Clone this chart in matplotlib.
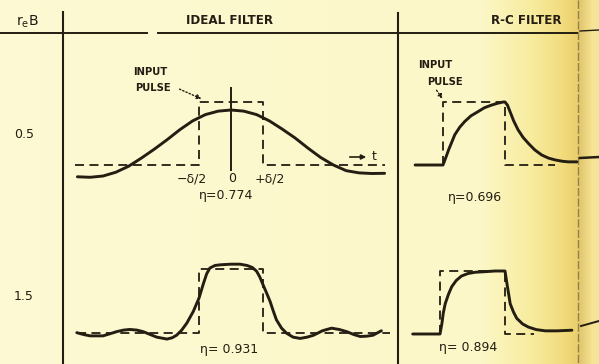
"""Pulse response of an ideal and an R-C low-pass filter for two values of r_e*B."""

import matplotlib
matplotlib.use("Agg")
import matplotlib.pyplot as plt
import numpy as np

# === Responses read as (t / pulse width, amplitude / pulse height) ===
IDEAL_LOW_T = [-2.4, -2.2, -2.0, -1.8, -1.6, -1.4, -1.2, -1.0, -0.8, -0.6, -0.4, -0.2,
               0.0, 0.2, 0.4, 0.6, 0.8, 1.0, 1.2, 1.4, 1.6, 1.8, 2.0, 2.2, 2.4]
IDEAL_LOW_A = [-0.187, -0.195, -0.175, -0.115, -0.02, 0.11, 0.25, 0.40, 0.56, 0.70, 0.80, 0.855,
               0.873, 0.855, 0.80, 0.70, 0.57, 0.43, 0.27, 0.12, 0.0, -0.09, -0.125, -0.135, -0.132]

IDEAL_HIGH_T = [-2.41, -2.3, -2.2, -2.0, -1.9, -1.79, -1.68, -1.58, -1.47, -1.37, -1.26, -1.16,
                -1.0, -0.92, -0.85, -0.77, -0.69, -0.59, -0.5, -0.43, -0.38, -0.33, -0.25, -0.17,
                0.0, 0.14, 0.25, 0.33, 0.4, 0.45, 0.5, 0.56, 0.61, 0.66, 0.71, 0.79, 0.87, 0.97,
                1.08, 1.19, 1.29, 1.43, 1.57, 1.69, 1.81, 1.92, 2.02, 2.12, 2.22, 2.35]
IDEAL_HIGH_A = [0.01, -0.02, -0.04, -0.04, -0.01, 0.025, 0.05, 0.06, 0.05, 0.025, -0.02, -0.06,
                -0.09, -0.07, -0.03, 0.05, 0.16, 0.34, 0.55, 0.78, 0.93, 1.02, 1.06, 1.07,
                1.08, 1.08, 1.06, 1.03, 0.97, 0.88, 0.76, 0.62, 0.5, 0.35, 0.21, 0.08, 0.0, -0.06,
                -0.08, -0.06, -0.03, 0.04, 0.08, 0.06, 0.025, -0.02, -0.05, -0.045, -0.03, 0.04]

RC_LOW_T = [-0.95, -0.5, -0.45, -0.41, -0.36, -0.31, -0.23, -0.15, -0.05, 0.07, 0.17, 0.28,
            0.38, 0.47, 0.5, 0.54, 0.58, 0.64, 0.71, 0.79, 0.88, 0.98, 1.09, 1.2, 1.31, 1.42,
            1.52, 1.66]
RC_LOW_A = [0.0, 0.0, 0.13, 0.24, 0.36, 0.48, 0.60, 0.69, 0.78, 0.85, 0.91, 0.95,
            0.98, 1.0, 1.0, 0.95, 0.85, 0.70, 0.56, 0.44, 0.34, 0.24, 0.16, 0.11, 0.08, 0.06,
            0.05, 0.05]

RC_HIGH_T = [-0.92, -0.5, -0.47, -0.45, -0.42, -0.37, -0.32, -0.25, -0.17, -0.07, 0.04, 0.2,
             0.35, 0.5, 0.515, 0.53, 0.555, 0.58, 0.63, 0.68, 0.77, 0.86, 0.98, 1.12, 1.3, 1.53]
RC_HIGH_A = [0.0, 0.0, 0.17, 0.33, 0.48, 0.63, 0.75, 0.85, 0.92, 0.96, 0.98, 0.99,
             1.0, 1.0, 0.9, 0.80, 0.64, 0.48, 0.35, 0.25, 0.16, 0.11, 0.07, 0.05, 0.05, 0.06]

# input pulse outlines (t, a)
IDEAL_LOW_PULSE_T = [-2.44, -0.5, -0.5, 0.5, 0.5, 2.4]
IDEAL_HIGH_PULSE_T = [-2.41, -0.5, -0.5, 0.5, 0.5, 2.48]
RC_LOW_PULSE_T = [-0.5, -0.5, 0.5, 0.5, 1.31]
RC_HIGH_PULSE_T = [-0.5, -0.5, 0.5, 0.5, 0.95]
IDEAL_PULSE_A = [0, 0, 1, 1, 0, 0]
RC_PULSE_A = [0, 1, 1, 0, 0]

ROW_LABELS = ["0.5", "1.5"]
ETA_IDEAL = ["η=0.774", "η= 0.931"]
ETA_RC = ["η=0.696", "η= 0.894"]

INK = "#231d12"
W, H = 599, 364

fig = plt.figure(figsize=(W / 100, H / 100), dpi=100)
plt.rcParams["font.family"] = ["DejaVu Sans"]

# page layer in pixel units
page = fig.add_axes([0, 0, 1, 1])
page.set_xlim(0, W)
page.set_ylim(H, 0)
page.axis("off")

# aged paper: pale cream, yellower towards the binding on the right
stops_x = [0, 480, 530, 560, 576, 580, 592, 599]
stops_c = np.array([
    [253, 250, 212], [252, 247, 200], [248, 236, 160], [242, 222, 128],
    [236, 208, 110], [226, 200, 110], [246, 228, 150], [244, 226, 150],
]) / 255
cols = np.arange(W)
row = np.stack([np.interp(cols, stops_x, stops_c[:, k]) for k in range(3)], axis=-1)
page.imshow(np.repeat(row[None, :, :], H, axis=0), extent=[0, W, H, 0],
            aspect="auto", zorder=0)

# table rules
page.plot([0, 147], [33, 33], color=INK, lw=1.4)
page.plot([158, 577], [33, 33], color=INK, lw=1.4)
page.plot([580, 599], [31, 30], color=INK, lw=1.0)
page.plot([63, 63], [12, H], color=INK, lw=1.5)
page.plot([398, 398], [13, H], color=INK, lw=1.5)
page.plot([578, 578], [0, H], color="#7d6c45", lw=1.0, ls=(0, (6, 1.5)), alpha=0.8)
page.plot([580, 599], [158, 157], color=INK, lw=1.8)
page.plot([581, 599], [326, 321], color=INK, lw=1.4)

txt = dict(color=INK, ha="center", va="center")
bold = dict(txt, fontweight="bold")

# headers
page.text(27, 22, r"$\mathregular{r_eB}$", fontsize=10, **txt)
page.text(229, 20, "IDEAL FILTER", fontsize=8.6, **bold)
page.text(526, 20, "R-C FILTER", fontsize=8.6, **bold)
for label, y in zip(ROW_LABELS, [135, 297]):
    page.text(24, y, label, fontsize=9, **txt)

# annotations
page.text(150, 72, "INPUT", fontsize=7.2, **bold)
page.text(153, 88, "PULSE", fontsize=7.2, **bold)
page.annotate("", xy=(204, 100), xytext=(177, 88),
              arrowprops=dict(arrowstyle="-|>", ls=(0, (1, 1.5)), lw=1.0,
                              color=INK, mutation_scale=7))
page.text(435, 65, "INPUT", fontsize=7.2, **bold)
page.text(445, 82, "PULSE", fontsize=7.2, **bold)
page.annotate("", xy=(444, 101), xytext=(435, 88),
              arrowprops=dict(arrowstyle="-|>", ls=(0, (1, 1.5)), lw=1.0,
                              color=INK, mutation_scale=6))
page.annotate("", xy=(369, 157), xytext=(347, 157),
              arrowprops=dict(arrowstyle="-|>", lw=1.2, color=INK, mutation_scale=7))
page.text(374, 156, "t", fontsize=9, **txt)
page.text(192, 179, "−δ/2", fontsize=9, **txt)
page.text(232, 179, "0", fontsize=9, **txt)
page.text(270, 179, "+δ/2", fontsize=9, **txt)

page.text(226, 195, ETA_IDEAL[0], fontsize=9, **txt)
page.text(229, 349, ETA_IDEAL[1], fontsize=9, **txt)
page.text(475, 198, ETA_RC[0], fontsize=9, **txt)
page.text(468, 348, ETA_RC[1], fontsize=9, **txt)


def panel_axes(cx, by, sx, sy, tlim=(-2.6, 2.6), alim=(-0.4, 1.3)):
    """Transparent axes whose t=0, a=0 sit at pixel (cx, by)."""
    left = (cx + tlim[0] * sx) / W
    bottom = 1 - (by - alim[0] * sy) / H
    ax = fig.add_axes([left, bottom, (tlim[1] - tlim[0]) * sx / W,
                       (alim[1] - alim[0]) * sy / H])
    ax.set_xlim(*tlim)
    ax.set_ylim(*alim)
    ax.axis("off")
    ax.patch.set_alpha(0)
    return ax


dash = dict(color=INK, lw=1.3, ls=(0, (5, 3)))
curve = dict(color=INK, lw=2.1, solid_capstyle="round", solid_joinstyle="round")

ax = panel_axes(231, 165, 64, 63)
ax.plot(IDEAL_LOW_PULSE_T, IDEAL_PULSE_A, **dash)
ax.plot([0, 0], [-0.08, 1.22], color=INK, lw=1.4)
ax.plot(IDEAL_LOW_T, IDEAL_LOW_A, **curve)

ax = panel_axes(231, 333.3, 64, 64)
ax.plot(IDEAL_HIGH_PULSE_T, IDEAL_PULSE_A, **dash)
ax.plot(IDEAL_HIGH_T, IDEAL_HIGH_A, **curve)

ax = panel_axes(474, 165, 62, 63)
ax.plot(RC_LOW_PULSE_T, RC_PULSE_A, **dash)
ax.plot(RC_LOW_T, RC_LOW_A, **curve)

ax = panel_axes(472.5, 334, 65, 63)
ax.plot(RC_HIGH_PULSE_T, RC_PULSE_A, **dash)
ax.plot(RC_HIGH_T, RC_HIGH_A, **curve)

fig.savefig("out.png", dpi=100)
plt.close(fig)
